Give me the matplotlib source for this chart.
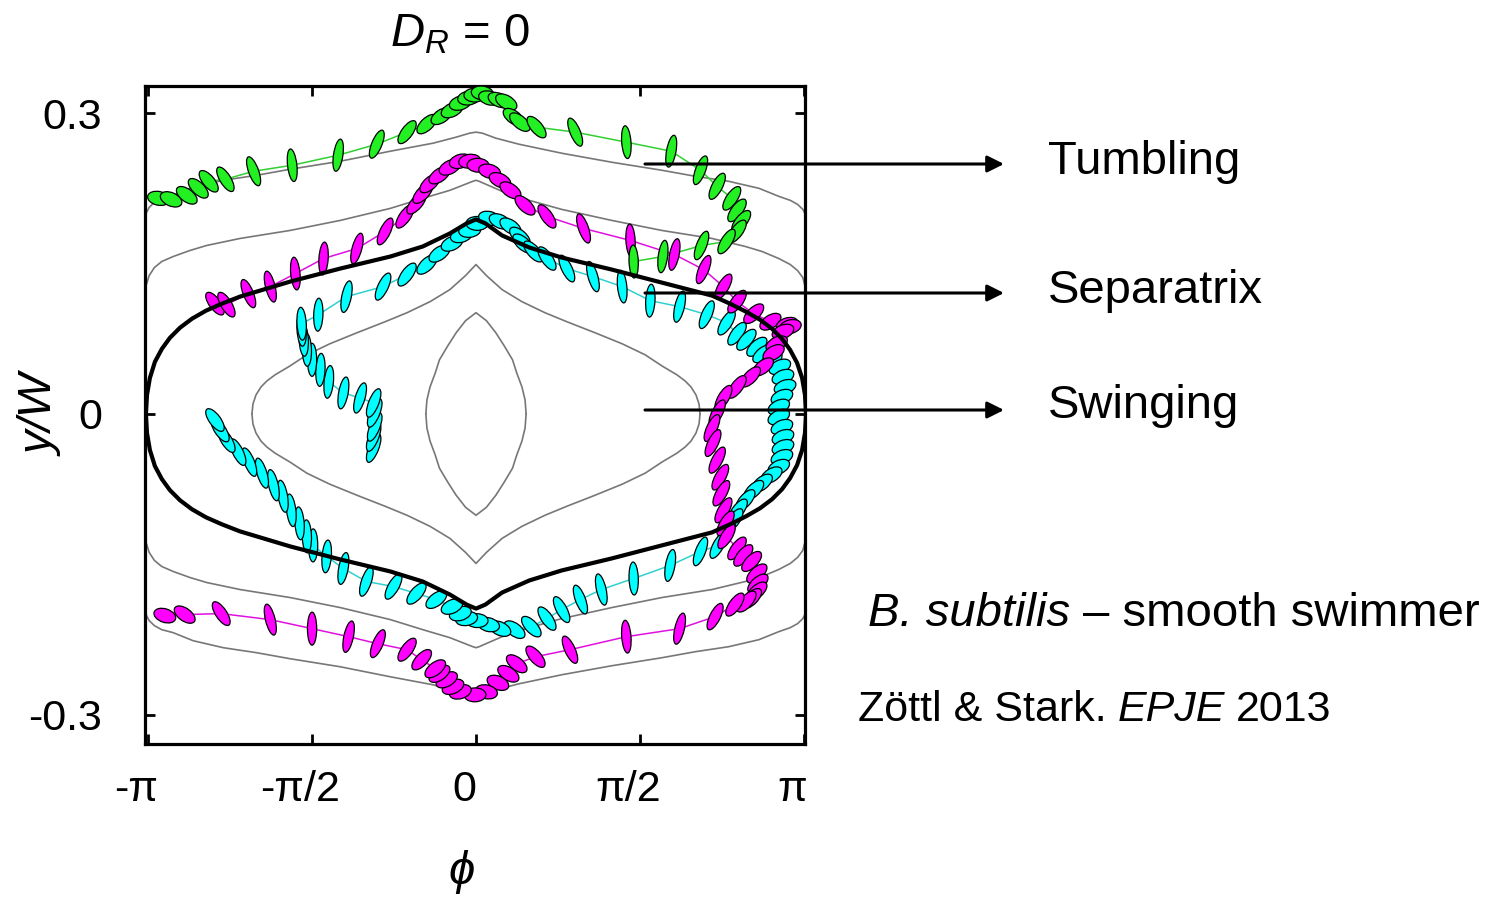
"""
Phase portrait y/W vs phi for a smooth swimmer in Poiseuille flow (D_R = 0),
with three sample trajectories drawn as oriented ellipses.
"""
import matplotlib
matplotlib.use("Agg")
import matplotlib.pyplot as plt
import numpy as np
from matplotlib import font_manager
from matplotlib.collections import EllipseCollection
from matplotlib.patches import FancyArrowPatch
from matplotlib.transforms import ScaledTranslation

W, H = 1494, 898

# ---------------------------------------------------------------- data
# gray level curves (upper halves, the lower ones are their mirror images)
C1_PHI = [-3.16, -3.13, -3.08, -3.01, -2.90, -2.71, -2.42, -2.10, -1.78, -1.30, -0.82, -0.41, -0.19,
          -0.06, 0.0, 0.06, 0.19, 0.41, 0.82, 1.30, 1.78, 2.10, 2.42, 2.71, 2.90, 3.01, 3.08, 3.13, 3.15]
C1_Y = [0.200, 0.206, 0.211, 0.215, 0.218, 0.226, 0.233, 0.238, 0.244, 0.252, 0.262, 0.270, 0.276,
        0.280, 0.281, 0.280, 0.275, 0.269, 0.260, 0.251, 0.243, 0.237, 0.232, 0.225, 0.217, 0.213,
        0.209, 0.204, 0.200]

C2_PHI = [-3.16, -3.13, -3.08, -3.01, -2.90, -2.74, -2.58, -2.26, -1.78, -1.30, -0.82, -0.51, -0.25,
          -0.03, 0.0, 0.03, 0.25, 0.51, 0.82, 1.30, 1.78, 2.26, 2.58, 2.74, 2.90, 3.01, 3.08, 3.13, 3.15]
C2_Y = [0.128, 0.138, 0.146, 0.152, 0.157, 0.163, 0.168, 0.175, 0.183, 0.193, 0.205, 0.215, 0.223,
        0.232, 0.233, 0.232, 0.222, 0.213, 0.204, 0.193, 0.183, 0.175, 0.167, 0.162, 0.155, 0.149,
        0.143, 0.136, 0.128]

C3_PHI = [-2.146, -2.136, -2.107, -2.059, -2.002, -1.925, -1.78, -1.62, -1.40, -1.14, -0.87, -0.66,
          -0.44, -0.25, -0.10, 0.0, 0.10, 0.25, 0.44, 0.66, 0.87, 1.14, 1.40, 1.62, 1.78, 1.925,
          2.002, 2.059, 2.107, 2.136, 2.146]
C3_Y = [0.000, 0.010, 0.019, 0.027, 0.033, 0.039, 0.048, 0.059, 0.070, 0.081, 0.092, 0.101,
        0.112, 0.124, 0.138, 0.149, 0.138, 0.124, 0.112, 0.101, 0.092, 0.081, 0.070, 0.059, 0.048,
        0.039, 0.033, 0.027, 0.019, 0.010, 0.000]

C4_PHI = [-0.48, -0.47, -0.44, -0.39, -0.35, -0.27, -0.19, -0.10, 0.0,
          0.10, 0.19, 0.27, 0.35, 0.39, 0.44, 0.47, 0.48]
C4_Y = [0.000, 0.014, 0.027, 0.041, 0.054, 0.068, 0.081, 0.093, 0.101,
        0.093, 0.081, 0.068, 0.054, 0.041, 0.027, 0.014, 0.000]

# separatrix (upper half)
SEP_PHI = [-3.161, -3.151, -3.123, -3.075, -3.008, -2.931, -2.835, -2.720, -2.586, -2.433, -2.261,
           -1.78, -1.30, -0.82, -0.51, -0.25, -0.09, 0.0, 0.09, 0.25, 0.51, 0.82, 1.30, 1.78,
           2.261, 2.433, 2.586, 2.720, 2.835, 2.931, 3.008, 3.075, 3.123, 3.151, 3.161]
SEP_Y = [0.000, 0.019, 0.036, 0.052, 0.065, 0.076, 0.086, 0.095, 0.103, 0.110, 0.117,
         0.132, 0.145, 0.157, 0.167, 0.180, 0.190, 0.194, 0.190, 0.178, 0.166, 0.156, 0.144, 0.131,
         0.118, 0.110, 0.102, 0.094, 0.085, 0.075, 0.064, 0.051, 0.036, 0.019, 0.000]

# trajectories: ellipse centres (phi, y/W)
GREEN_PHI = [-3.04, -2.92, -2.77, -2.66, -2.56, -2.40, -2.13, -1.76, -1.32, -0.95, -0.66, -0.47, -0.33,
             -0.23, -0.15, -0.07, -0.01, 0.06, 0.13, 0.22, 0.29, 0.36, 0.42, 0.58, 0.95, 1.44, 1.87,
             2.15, 2.31, 2.45, 2.50, 2.54, 2.50, 2.40, 2.16, 1.79, 1.51]
GREEN_Y = [0.215, 0.214, 0.218, 0.225, 0.232, 0.234, 0.242, 0.248, 0.258, 0.269, 0.281, 0.289, 0.297,
           0.303, 0.310, 0.315, 0.318, 0.320, 0.315, 0.313, 0.311, 0.296, 0.291, 0.286, 0.281, 0.271,
           0.262, 0.243, 0.227, 0.215, 0.203, 0.192, 0.182, 0.172, 0.168, 0.157, 0.152]

MAG_PHI = [-2.50, -2.39, -2.18, -1.97, -1.73, -1.46, -1.14, -0.87, -0.68, -0.57,
           -0.51, -0.44, -0.35, -0.25, -0.15, -0.06, 0.02, 0.13, 0.23, 0.33,
           0.47, 0.68, 1.03, 1.48, 1.90, 2.18, 2.37, 2.50, 2.66, 2.82,
           2.98, 3.01, 2.94, 2.88, 2.85, 2.75, 2.63, 2.50, 2.37, 2.31,
           2.26, 2.27, 2.31, 2.34, 2.35, 2.37, 2.39, 2.40, 2.50, 2.56,
           2.64, 2.69, 2.70, 2.69, 2.64, 2.59, 2.48, 2.29, 1.95, 1.44,
           0.90, 0.57, 0.39, 0.31, 0.21, 0.10, -0.01, -0.15, -0.22, -0.28,
           -0.35, -0.39, -0.52, -0.66, -0.94, -1.22, -1.57, -1.97, -2.44, -2.79,
           -2.98]
MAG_Y = [0.110, 0.109, 0.120, 0.127, 0.140, 0.155, 0.165, 0.182, 0.197, 0.210,
         0.220, 0.230, 0.238, 0.246, 0.252, 0.252, 0.248, 0.242, 0.233, 0.223,
         0.208, 0.197, 0.185, 0.173, 0.159, 0.144, 0.127, 0.112, 0.100, 0.092,
         0.089, 0.087, 0.082, 0.070, 0.061, 0.047, 0.037, 0.027, 0.016, 0.001,
         -0.014, -0.029, -0.046, -0.063, -0.079, -0.096, -0.109, -0.122, -0.134, -0.141,
         -0.147, -0.159, -0.169, -0.177, -0.184, -0.187, -0.190, -0.202, -0.214, -0.222,
         -0.235, -0.242, -0.249, -0.259, -0.268, -0.277, -0.280, -0.277, -0.272, -0.265,
         -0.259, -0.254, -0.245, -0.235, -0.229, -0.222, -0.214, -0.205, -0.199, -0.200,
         -0.201]

CYAN_PHI = [-0.98, -0.98, -0.97, -0.97, -0.98, -1.11, -1.27, -1.41, -1.49, -1.57,
            -1.62, -1.65, -1.67, -1.67, -1.51, -1.24, -0.89, -0.66, -0.47, -0.35,
            -0.23, -0.14, -0.06, 0.01, 0.13, 0.23, 0.33, 0.42, 0.45, 0.55,
            0.68, 0.87, 1.12, 1.40, 1.67, 1.95, 2.21, 2.40, 2.50, 2.59,
            2.69, 2.75, 2.83, 2.91, 2.94, 2.96, 2.93, 2.90, 2.90, 2.93,
            2.94, 2.94, 2.93, 2.90, 2.83, 2.74, 2.66, 2.58, 2.51, 2.47,
            2.40, 2.32, 2.15, 1.86, 1.51, 1.20, 1.00, 0.82, 0.68, 0.53,
            0.37, 0.23, 0.12, 0.01, -0.09, -0.15, -0.23, -0.38, -0.57, -0.79,
            -1.05, -1.27, -1.43, -1.56, -1.62, -1.69, -1.77, -1.85, -1.94, -2.05,
            -2.17, -2.28, -2.39, -2.45, -2.50]
CYAN_Y = [-0.034, -0.023, -0.013, 0.001, 0.011, 0.016, 0.021, 0.032, 0.044, 0.054,
          0.064, 0.074, 0.084, 0.090, 0.099, 0.117, 0.127, 0.139, 0.149, 0.160,
          0.170, 0.178, 0.183, 0.190, 0.195, 0.192, 0.187, 0.177, 0.170, 0.162,
          0.155, 0.145, 0.137, 0.127, 0.113, 0.107, 0.099, 0.091, 0.080, 0.074,
          0.067, 0.060, 0.054, 0.047, 0.037, 0.027, 0.017, 0.007, -0.003, -0.013,
          -0.023, -0.033, -0.043, -0.053, -0.061, -0.069, -0.076, -0.086, -0.096, -0.106,
          -0.119, -0.131, -0.137, -0.151, -0.164, -0.175, -0.185, -0.195, -0.204, -0.212,
          -0.215, -0.214, -0.210, -0.206, -0.204, -0.199, -0.192, -0.185, -0.179, -0.172,
          -0.167, -0.154, -0.142, -0.131, -0.122, -0.109, -0.096, -0.082, -0.071, -0.059,
          -0.048, -0.038, -0.026, -0.016, -0.006]

XTICKS = [-np.pi, -np.pi / 2, 0, np.pi / 2, np.pi]
XTICKLABELS = ["-π", "-π/2", "0", "π/2", "π"]
YTICKS = [-0.3, 0, 0.3]
YTICKLABELS = ["-0.3", "0", "0.3"]

LABELS = ["Tumbling", "Separatrix", "Swinging"]

# ---------------------------------------------------------------- style
plt.rcParams.update({
    "font.family": "Liberation Sans",
    "mathtext.fontset": "custom",
    "mathtext.rm": "Liberation Sans",
    "mathtext.it": "Liberation Sans:italic",
})
installed = {f.name for f in font_manager.fontManager.ttflist}
NARROW = "Liberation Sans Narrow" if "Liberation Sans Narrow" in installed else "Liberation Sans"
NSIZE = 34 if NARROW == "Liberation Sans Narrow" else 31
FS = 34

GRAY = "#777777"
TRAJ = [  # (phi, y, face colour, line colour)
    (CYAN_PHI, CYAN_Y, "#00ffff", "#30d0d0"),
    (MAG_PHI, MAG_Y, "#ff00ff", "#e010e0"),
    (GREEN_PHI, GREEN_Y, "#22f022", "#30d030"),
]
# swimmer icon: rod with aspect B, drawn with pixel scales KX, KY
KX, KY, B = 11.0, 16.5, 0.42


def icon_shapes(phi):
    widths, heights, angles = [], [], []
    for t in -np.asarray(phi):
        rot = np.array([[np.cos(t), -np.sin(t)], [np.sin(t), np.cos(t)]])
        m = np.diag([KX, KY]) @ rot @ np.diag([1.0, B])
        u, s, _ = np.linalg.svd(m)
        widths.append(2 * s[0])
        heights.append(2 * s[1])
        angles.append(np.degrees(np.arctan2(u[1, 0], u[0, 0])))
    return widths, heights, angles


def fx(px):
    return px / W


def fy(py):
    return 1 - py / H


fig = plt.figure(figsize=(W / 100, H / 100), dpi=100)
ax = fig.add_axes([fx(145), fy(744), 660 / W, 658 / H])

for cphi, cy in [(C1_PHI, C1_Y), (C2_PHI, C2_Y), (C3_PHI, C3_Y), (C4_PHI, C4_Y)]:
    ax.plot(cphi, cy, color=GRAY, lw=1.2, zorder=1)
    ax.plot(cphi, -np.asarray(cy), color=GRAY, lw=1.2, zorder=1)

for tphi, ty, face, line in TRAJ:
    ax.plot(tphi, ty, color=line, lw=1.1, zorder=2)
    w, h, a = icon_shapes(tphi)
    ec = EllipseCollection(w, h, a, units="dots", offsets=np.column_stack([tphi, ty]),
                           offset_transform=ax.transData, facecolors=face,
                           edgecolors="black", linewidths=0.9, zorder=3)
    ax.add_collection(ec)

ax.plot(SEP_PHI, SEP_Y, color="black", lw=3.0, zorder=4, solid_joinstyle="round")
ax.plot(SEP_PHI, -np.asarray(SEP_Y), color="black", lw=3.0, zorder=4, solid_joinstyle="round")

ax.set_xlim(-3.170, 3.151)
ax.set_ylim(-0.329, 0.327)
ax.set_xticks(XTICKS)
ax.set_xticklabels(XTICKLABELS, fontfamily=NARROW, fontsize=NSIZE)
ax.set_yticks(YTICKS)
ax.set_yticklabels(YTICKLABELS, fontfamily=NARROW, fontsize=NSIZE)
ax.tick_params(direction="in", length=7, width=2.0, top=True, right=True)
ax.tick_params(axis="x", pad=19)
ax.tick_params(axis="y", pad=31)
shift = ScaledTranslation(-12 / 100, 0, fig.dpi_scale_trans)
for lab in ax.get_xticklabels():
    lab.set_transform(lab.get_transform() + shift)
for sp in ax.spines.values():
    sp.set_linewidth(2.3)

# axis titles
fig.text(fx(460), fy(47), r"$D_R$ = 0", ha="center", va="baseline", fontsize=FS)
fig.text(fx(42), fy(415), "y/W", style="italic", rotation=90, ha="center", va="center", fontsize=FS)
fig.text(fx(462), fy(872), "ϕ", style="italic", ha="center", va="center", fontsize=FS,
         family=["Liberation Sans", "DejaVu Sans"])

# arrows and their labels
for ypx, base, lab in zip([164, 293, 410], [174, 303, 418], LABELS):
    fig.add_artist(FancyArrowPatch((fx(645), fy(ypx)), (fx(1004), fy(ypx)), transform=fig.transFigure,
                                   arrowstyle="-|>,head_length=0.5,head_width=0.25", mutation_scale=20,
                                   lw=2.2, color="black", shrinkA=0, shrinkB=0, zorder=10))
    fig.text(fx(1048), fy(base), lab, ha="left", va="baseline", fontsize=FS)


def text_run(x_px, y_px, parts, family, size, gap):
    r = fig.canvas.get_renderer()
    x = x_px
    for s, style in parts:
        t = fig.text(fx(x), fy(y_px), s, family=family, fontsize=size, style=style,
                     ha="left", va="baseline")
        x = t.get_window_extent(r).x1 + gap


text_run(868, 626, [("B. subtilis", "italic"), ("– smooth swimmer", "normal")],
         "Liberation Sans", FS, 13)
text_run(858, 721, [("Zöttl & Stark.", "normal"), ("EPJE", "italic"), ("2013", "normal")],
         NARROW, NSIZE, 11)

fig.savefig("out.png", dpi=100)
